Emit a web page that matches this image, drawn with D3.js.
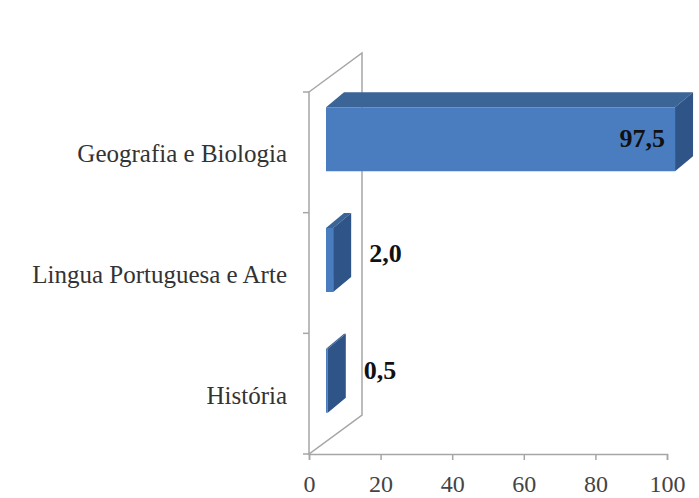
<!DOCTYPE html>
<html>
<head>
<meta charset="utf-8">
<script src="https://cdn.jsdelivr.net/npm/d3@7"></script>
<style>
  body { margin: 0; background: #fff; }
  text { font-family: "Liberation Serif", "Times New Roman", serif; }
</style>
</head>
<body>
<div id="chart"></div>
<script>
// data
var categories = ["Geografia e Biologia", "Lingua Portuguesa e Arte", "História"];
var values = [97.5, 2.0, 0.5];
var valueLabels = ["97,5", "2,0", "0,5"];
var xTicks = [0, 20, 40, 60, 80, 100];

var width = 699, height = 498;

var svg = d3.select("#chart")
  .append("svg")
    .attr("width", width)
    .attr("height", height);

// scales
var x = d3.scaleLinear()
  .domain([0, 100])
  .range([309, 667]);

var y = d3.scaleBand()
  .domain(categories)
  .range([92, 454])
  .paddingInner(0.47)
  .paddingOuter(0.235);

// 3d depth offsets (front of bar, back of bar, back wall)
var d1 = [17, -13], d2 = [35, -28], dW = [53, -39];

// side wall (left)
var wallColor = "#a6a6a6";
var y0 = y.range()[0], y1 = y.range()[1];
svg.append("path")
  .attr("d", "M" + x(0) + "," + y0 + "L" + (x(0) + dW[0]) + "," + (y0 + dW[1]) +
             "L" + (x(0) + dW[0]) + "," + (y1 + dW[1]) + "L" + x(0) + "," + y1 + "Z")
  .attr("fill", "#fff")
  .attr("stroke", wallColor)
  .attr("stroke-width", 1.5);

// y axis ticks (category boundaries)
var bounds = [y0].concat(categories.map(function(c) { return y(c) + y.bandwidth() + y.step() * y.paddingInner() / 2; }));
bounds[bounds.length - 1] = y1;
svg.selectAll(".ytick")
  .data(bounds)
  .enter()
  .append("line")
    .attr("x1", x(0) - 6)
    .attr("x2", x(0))
    .attr("y1", function(d) { return d; })
    .attr("y2", function(d) { return d; })
    .attr("stroke", wallColor)
    .attr("stroke-width", 1.5);

// x axis
var xAxis = svg.append("g")
  .attr("transform", "translate(0," + y1 + ")")
  .attr("font-family", "Liberation Serif")
  .call(d3.axisBottom(x).tickValues(xTicks).tickSize(6).tickPadding(15));
xAxis.select(".domain").attr("stroke", wallColor).attr("stroke-width", 1.5);
xAxis.selectAll(".tick line").attr("stroke", wallColor).attr("stroke-width", 1.5);
xAxis.selectAll(".tick text")
  .attr("fill", "#444")
  .style("font-family", "'Liberation Serif', serif")
  .style("font-size", "24px");

// bars
var bars = svg.append("g");
values.forEach(function(v, i) {
  var c = categories[i];
  var xa = x(0), xb = x(v);
  var yt = y(c), yb = y(c) + y.bandwidth();
  function pt(px, py, d) { return (px + d[0]) + "," + (py + d[1]); }

  // top face
  bars.append("polygon")
    .attr("points", [pt(xa, yt, d1), pt(xb, yt, d1), pt(xb, yt, d2), pt(xa, yt, d2)].join(" "))
    .attr("fill", "#3b6597");
  // front face
  bars.append("polygon")
    .attr("points", [pt(xa, yt, d1), pt(xb, yt, d1), pt(xb, yb, d1), pt(xa, yb, d1)].join(" "))
    .attr("fill", "#4a7dc0");
  // right side face
  bars.append("polygon")
    .attr("points", [pt(xb, yt, d1), pt(xb, yt, d2), pt(xb, yb, d2), pt(xb, yb, d1)].join(" "))
    .attr("fill", "#2e5488");
});

// value labels
svg.selectAll(".vlabel")
  .data(values)
  .enter()
  .append("text")
    .attr("x", function(d) { return d > 50 ? x(d) + d1[0] - 10 : x(d) + d2[0] + 18; })
    .attr("y", function(d, i) {
      var cy = y(categories[i]) + y.bandwidth() / 2;
      return d > 50 ? cy + d1[1] + 8 : cy - 15 + (i === 1 ? 4 : 0);
    })
    .attr("text-anchor", function(d) { return d > 50 ? "end" : "start"; })
    .style("font-size", "26px")
    .style("font-weight", "bold")
    .attr("fill", "#111")
    .text(function(d, i) { return valueLabels[i]; });

// category labels
svg.selectAll(".clabel")
  .data(categories)
  .enter()
  .append("text")
    .attr("x", 287)
    .attr("y", function(d) { return y(d) + y.bandwidth() / 2 + 10; })
    .attr("text-anchor", "end")
    .style("font-size", "25px")
    .attr("fill", "#333")
    .text(function(d) { return d; });
</script>
</body>
</html>
